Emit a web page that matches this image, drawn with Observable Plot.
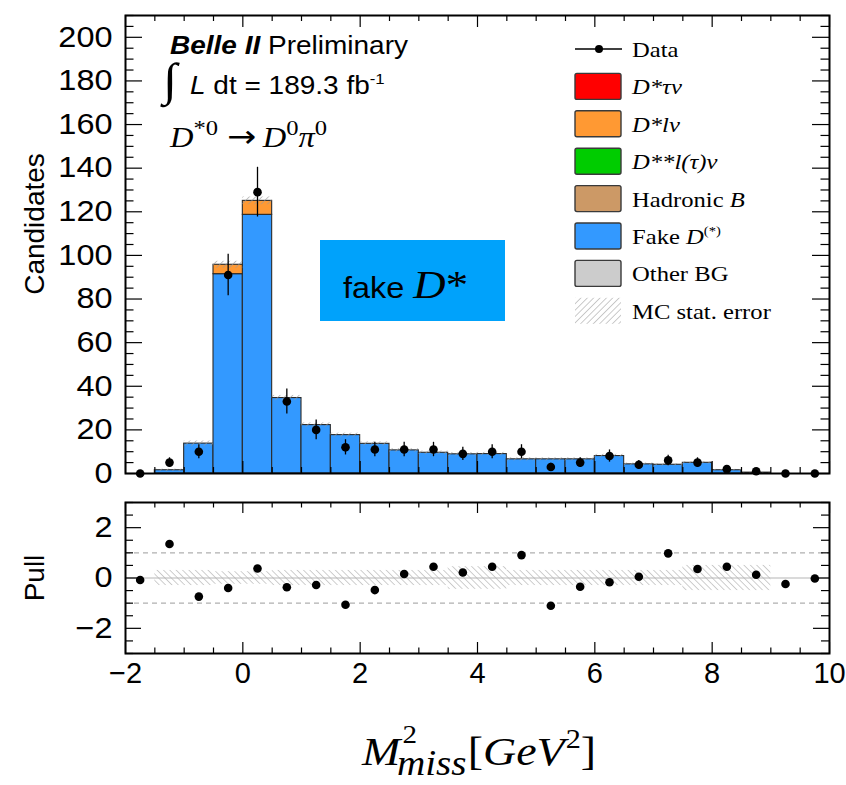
<!DOCTYPE html>
<html><head><meta charset="utf-8">
<script src="https://cdn.jsdelivr.net/npm/d3@7"></script>
<script src="https://cdn.jsdelivr.net/npm/@observablehq/plot@0.6"></script>
<style>
body{margin:0;background:#fff;}
#wrap{position:relative;width:846px;height:785px;overflow:hidden;background:#fff;}
#wrap>svg,#wrap>div{position:absolute;left:0;}
</style></head><body><div id="wrap"></div>
<script>
// ---------- data ----------
const binLow = [-2,-1.5,-1,-0.5,0,0.5,1,1.5,2,2.5,3,3.5,4,4.5,5,5.5,6,6.5,7,7.5,8,8.5,9,9.5];
const binWidth = 0.5;
const otherBG    = [0,0,0,0,0,0,0,0,0,0,0,0,0,0,0,0,0,0,0,0,0,0,0,0];
const fakeD      = [0,1.5,13.7,91.4,118.6,34.6,22.2,17.6,13.6,10.6,9.5,8.8,8.9,6.5,6.5,6.5,8.0,4.2,4.0,4.9,1.5,0.4,0,0];
const hadronicB  = [0,0,0,0,0,0,0,0,0,0,0,0,0,0,0,0,0,0,0,0,0,0,0,0];
const dStarStar  = [0,0,0,0,0,0,0,0,0,0,0,0,0,0,0,0,0,0,0,0,0,0,0,0];
const dStarLnu   = [0,0,0,4.3,6.4,0,0,0,0,0,0,0,0,0,0,0,0,0,0,0,0,0,0,0];
const dStarTaunu = [0,0,0,0,0,0,0,0,0,0,0,0,0,0,0,0,0,0,0,0,0,0,0,0];
const mcErr      = [0,0.5,1.2,1.6,1.8,1.2,1.0,0.9,0.9,0.8,0.8,0.8,0.8,0.7,0.7,0.7,0.8,0.6,0.6,0.6,0.4,0.2,0,0];
const dataCounts = [0,5,10,91,129,33,20,12,11,11,11,9,10,10,3,5,8,4,6,5,2,1,0,0];
const dataErr    = [0,2.2,3.2,9.5,11.4,5.7,4.5,3.5,3.3,3.3,3.3,3.0,3.2,3.2,1.7,2.2,2.8,2.0,2.4,2.2,1.4,1.0,0,0];
const pull       = [-0.08,1.35,-0.74,-0.4,0.38,-0.37,-0.28,-1.06,-0.48,0.16,0.45,0.22,0.45,0.91,-1.1,-0.35,-0.17,0.05,0.98,0.36,0.45,0.13,-0.24,-0.02];
const pullBand   = [0,0.3,0.3,0.25,0.25,0.3,0.3,0.3,0.3,0.3,0.3,0.45,0.45,0.3,0.3,0.3,0.3,0.3,0.3,0.5,0.5,0.5,0,0];

const compNames  = ["Other BG","Fake D(*)","Hadronic B","D**l(τ)ν","D*lν","D*τν"];
const compColors = ["#cccccc","#3399ff","#cc9966","#00cc00","#ff9933","#ff0000"];
const compValues = [otherBG, fakeD, hadronicB, dStarStar, dStarLnu, dStarTaunu];

const yTicksTop   = [0,20,40,60,80,100,120,140,160,180,200];
const yTicksPull  = [-2,0,2];
const xTicks      = [-2,0,2,4,6,8,10];

const legendLabels = [
  [{t:"Data"}],
  [{t:"D*τν",i:1}],
  [{t:"D*lν",i:1}],
  [{t:"D**l(τ)ν",i:1}],
  [{t:"Hadronic "},{t:"B",i:1}],
  [{t:"Fake "},{t:"D",i:1},{t:"(*)",size:13,rise:9}],
  [{t:"Other BG"}],
  [{t:"MC stat. error"}]
];
const legendFills = [null,"#ff0000","#ff9933","#00cc00","#cc9966","#3399ff","#cccccc","hatch"];

// ---------- derived tables ----------
const SANS = "'Liberation Sans', Arial, Helvetica, sans-serif";
const SERIF = "'Liberation Serif', 'Times New Roman', serif";
const SX = 1.12;
const W = 846;
const fmtNum = d => d < 0 ? "\u2212" + (-d) : String(d);

const stackRows = [];
compValues.forEach((vals, k) => binLow.forEach((lo, i) => {
  if (vals[i] > 0) stackRows.push({x1: lo, x2: lo + binWidth, v: vals[i], comp: compNames[k]});
}));
const bins = binLow.map((lo, i) => {
  const tot = compValues.reduce((s, a) => s + a[i], 0);
  return {x1: lo, x2: lo + binWidth, xc: lo + binWidth / 2, tot, err: mcErr[i],
          n: dataCounts[i], ne: dataErr[i], pull: pull[i], pb: pullBand[i]};
});

const wrap = document.getElementById("wrap");

function addHatch(svg, id, angle, color) {
  const defs = d3.select(svg).insert("defs", ":first-child");
  const p = defs.append("pattern").attr("id", id).attr("patternUnits", "userSpaceOnUse")
    .attr("width", 4.5).attr("height", 4.5).attr("patternTransform", `rotate(${angle})`);
  p.append("line").attr("x1", 0).attr("y1", 0).attr("x2", 0).attr("y2", 4.5)
    .attr("stroke", color).attr("stroke-width", 1.2);
}
function stretchText(svg, selector) {
  d3.select(svg).selectAll(selector).each(function() {
    const x = +this.getAttribute("x") || 0, y = +this.getAttribute("y") || 0;
    const tr = this.getAttribute("transform") || "";
    this.setAttribute("transform", `${tr} translate(${x},${y}) scale(${SX},1) translate(${-x},${-y})`);
  });
}
const minorOf = (lo, hi, step, majors) => d3.range(lo, hi + 1e-9, step).filter(v => !majors.some(m => Math.abs(m - v) < 1e-9));

// ---------- top panel ----------
{
  const H = 490, mL = 125, mR = 17, mT = 15, mB = 17;
  const iW = W - mL - mR, iH = H - mT - mB;
  const yMinor = minorOf(0, 210, 5, yTicksTop);
  const xMinor = minorOf(-2, 10, 0.5, xTicks);
  const svg = Plot.plot({
    width: W, height: H, marginLeft: mL, marginRight: mR, marginTop: mT, marginBottom: mB,
    style: {background: "transparent", overflow: "visible", fontFamily: SANS, fontSize: "29px", color: "black"},
    x: {domain: [-2, 10], axis: null},
    y: {domain: [0, 210]},
    color: {domain: compNames, range: compColors},
    marks: [
      Plot.rectY(stackRows, {x1: "x1", x2: "x2", y: "v", fill: "comp", stroke: "#2a2a2a", strokeWidth: 1.1}),
      Plot.rect(bins.filter(d => d.err > 0), {x1: "x1", x2: "x2", y1: d => d.tot - d.err, y2: d => d.tot + d.err, fill: "url(#hatchTop)"}),
      Plot.ruleX(bins.filter(d => d.ne > 0), {x: "xc", y1: d => d.n - d.ne, y2: d => d.n + d.ne, stroke: "black", strokeWidth: 1.3}),
      Plot.dot(bins, {x: "xc", y: "n", r: 4.3, fill: "black", stroke: null}),
      Plot.tickY(yTicksTop, {insetRight: iW - 17, stroke: "black", strokeWidth: 1.2}),
      Plot.tickY(yMinor, {insetRight: iW - 8.5, stroke: "black", strokeWidth: 1.2}),
      Plot.tickY(yTicksTop, {insetLeft: iW - 17, stroke: "black", strokeWidth: 1.2}),
      Plot.tickY(yMinor, {insetLeft: iW - 8.5, stroke: "black", strokeWidth: 1.2}),
      Plot.tickX(xTicks, {insetBottom: iH - 12, stroke: "black", strokeWidth: 1.2}),
      Plot.tickX(xMinor, {insetBottom: iH - 6, stroke: "black", strokeWidth: 1.2}),
      Plot.tickX(xTicks, {insetTop: iH - 12, stroke: "black", strokeWidth: 1.2}),
      Plot.tickX(xMinor, {insetTop: iH - 6, stroke: "black", strokeWidth: 1.2}),
      Plot.axisY({ticks: yTicksTop, tickSize: 0, tickPadding: 13, label: null, fontSize: 29, tickFormat: fmtNum}),
      Plot.frame({stroke: "black", strokeWidth: 2})
    ]
  });
  addHatch(svg, "hatchTop", 45, "#9a9a9a");
  stretchText(svg, "text");
  svg.style.top = "0px";
  wrap.appendChild(svg);
}

// ---------- pull panel ----------
{
  const H = 210, mL = 125, mR = 17, mT = 12, mB = 47;
  const iW = W - mL - mR, iH = H - mT - mB;
  const yMinor = minorOf(-3, 3, 0.5, yTicksPull);
  const xMinor = minorOf(-2, 10, 0.5, xTicks);
  const svg = Plot.plot({
    width: W, height: H, marginLeft: mL, marginRight: mR, marginTop: mT, marginBottom: mB,
    style: {background: "transparent", overflow: "visible", fontFamily: SANS, fontSize: "29px", color: "black"},
    x: {domain: [-2, 10]},
    y: {domain: [-3, 3]},
    marks: [
      Plot.rect(bins.filter(d => d.pb > 0), {x1: "x1", x2: "x2", y1: d => -d.pb, y2: d => d.pb, fill: "url(#hatchPull)"}),
      Plot.ruleY([0], {stroke: "#b5b5b5", strokeWidth: 1.2}),
      Plot.ruleY([-1, 1], {stroke: "#b0b0b0", strokeWidth: 1.2, strokeDasharray: "5,4"}),
      Plot.dot(bins, {x: "xc", y: "pull", r: 4.3, fill: "black", stroke: null}),
      Plot.tickY(yTicksPull, {insetRight: iW - 16, stroke: "black", strokeWidth: 1.2}),
      Plot.tickY(yMinor, {insetRight: iW - 8, stroke: "black", strokeWidth: 1.2}),
      Plot.tickY(yTicksPull, {insetLeft: iW - 16, stroke: "black", strokeWidth: 1.2}),
      Plot.tickY(yMinor, {insetLeft: iW - 8, stroke: "black", strokeWidth: 1.2}),
      Plot.tickX(xTicks, {insetBottom: iH - 11, stroke: "black", strokeWidth: 1.2}),
      Plot.tickX(xMinor, {insetBottom: iH - 5.5, stroke: "black", strokeWidth: 1.2}),
      Plot.tickX(xTicks, {insetTop: iH - 11, stroke: "black", strokeWidth: 1.2}),
      Plot.tickX(xMinor, {insetTop: iH - 5.5, stroke: "black", strokeWidth: 1.2}),
      Plot.axisY({ticks: yTicksPull, tickSize: 0, tickPadding: 13, label: null, fontSize: 29, tickFormat: fmtNum}),
      Plot.axisX({ticks: xTicks, tickSize: 0, tickPadding: 9, label: null, fontSize: 29, tickFormat: fmtNum}),
      Plot.frame({stroke: "black", strokeWidth: 2})
    ]
  });
  addHatch(svg, "hatchPull", -45, "#adadad");
  stretchText(svg, "[aria-label='y-axis tick label'] text");
  svg.style.top = "490px";
  wrap.appendChild(svg);
}

// ---------- annotation overlay ----------
const ov = d3.select(wrap).append("svg").attr("width", W).attr("height", 785)
  .style("top", "0px").style("pointer-events", "none");
{
  const defs = ov.append("defs");
  const p = defs.append("pattern").attr("id", "hatchLeg").attr("patternUnits", "userSpaceOnUse")
    .attr("width", 4.5).attr("height", 4.5).attr("patternTransform", "rotate(45)");
  p.append("line").attr("x1", 0).attr("y1", 0).attr("x2", 0).attr("y2", 4.5).attr("stroke", "#a0a0a0").attr("stroke-width", 1.1);
}
function addText(x, y, parts, {anchor = "start", size = 20, family = SANS, rotate = 0, sx = SX} = {}) {
  const g = ov.append("g").attr("transform", `translate(${x},${y}) rotate(${rotate}) scale(${sx},1)`);
  const t = g.append("text").attr("font-family", family).attr("font-size", size).attr("text-anchor", anchor).attr("fill", "black");
  let prev = 0;
  for (const p of parts) {
    const s = t.append("tspan").text(p.t);
    if (p.i) s.attr("font-style", "italic");
    if (p.b) s.attr("font-weight", "bold");
    if (p.size) s.attr("font-size", p.size);
    if (p.family) s.attr("font-family", p.family);
    if (p.dx) s.attr("dx", p.dx);
    const rise = p.rise || 0;
    if (rise !== prev) s.attr("dy", -(rise - prev));
    prev = rise;
  }
  return t;
}

// Belle II header
addText(170, 54, [{t: "Belle II", b: 1, i: 1}, {t: " Preliminary"}], {size: 25});
addText(163, 95, [{t: "∫", family: SERIF, size: 46}], {size: 25});
addText(190, 94, [{t: "L", i: 1}, {t: " dt = 189.3 fb"}, {t: "-1", size: 15, rise: 10}], {size: 25});
addText(170, 147, [
  {t: "D", i: 1}, {t: "*0", size: 22, rise: 12},
  {t: "→", family: "'DejaVu Sans', sans-serif", size: 31, dx: 8},
  {t: "D", i: 1, dx: 6}, {t: "0", size: 22, rise: 12},
  {t: "π", i: 1}, {t: "0", size: 22, rise: 12}
], {size: 29, family: SERIF});

// y labels
addText(44, 224, [{t: "Candidates"}], {size: 28, anchor: "middle", rotate: -90, sx: 1});
addText(44, 578, [{t: "Pull"}], {size: 28, anchor: "middle", rotate: -90, sx: 1});

// fake D* box
ov.append("rect").attr("x", 320).attr("y", 240).attr("width", 185).attr("height", 81).attr("fill", "#00a2fb");
addText(343, 298, [{t: "fake "}, {t: "D", i: 1, family: SERIF, size: 40}, {t: "*", family: SERIF, size: 40}], {size: 29});

// legend
legendLabels.forEach((parts, i) => {
  const cy = 49 + i * 37.4;
  if (i === 0) {
    ov.append("line").attr("x1", 575).attr("x2", 622).attr("y1", cy).attr("y2", cy).attr("stroke", "black").attr("stroke-width", 1.3);
    ov.append("circle").attr("cx", 599).attr("cy", cy).attr("r", 4).attr("fill", "black");
  } else if (legendFills[i] === "hatch") {
    ov.append("rect").attr("x", 575).attr("y", cy - 13).attr("width", 46).attr("height", 26).attr("fill", "url(#hatchLeg)");
  } else {
    ov.append("rect").attr("x", 575).attr("y", cy - 13).attr("width", 46).attr("height", 26).attr("rx", 2)
      .attr("fill", legendFills[i]).attr("stroke", "#3a3a3a").attr("stroke-width", 1.4);
  }
  addText(632, cy + 8, parts, {size: 22, family: SERIF});
});

// x-axis title: M^2_miss [GeV^2]
{
  const g = ov.append("g").attr("transform", `translate(362,765) scale(${SX},1)`);
  const mk = (x, y, s, size, italic) => {
    const t = g.append("text").attr("x", x).attr("y", y).attr("font-family", SERIF).attr("font-size", size)
      .attr("font-style", italic ? "italic" : "normal").text(s);
    return t.node().getComputedTextLength();
  };
  const wM = mk(0, 0, "M", 41, true);
  const w2 = mk(wM + 2, -22, "2", 26, false);
  const wMiss = mk(wM - 3, 10, "miss", 35, true);
  let x = Math.max(wM + 2 + w2, wM - 3 + wMiss) + 1;
  x += mk(x, 0, "[", 41, false);
  x += mk(x, 0, "GeV", 41, true);
  x += mk(x + 1, -17, "2", 27, false) + 1;
  mk(x, 0, "]", 41, false);
}
</script></body></html>
